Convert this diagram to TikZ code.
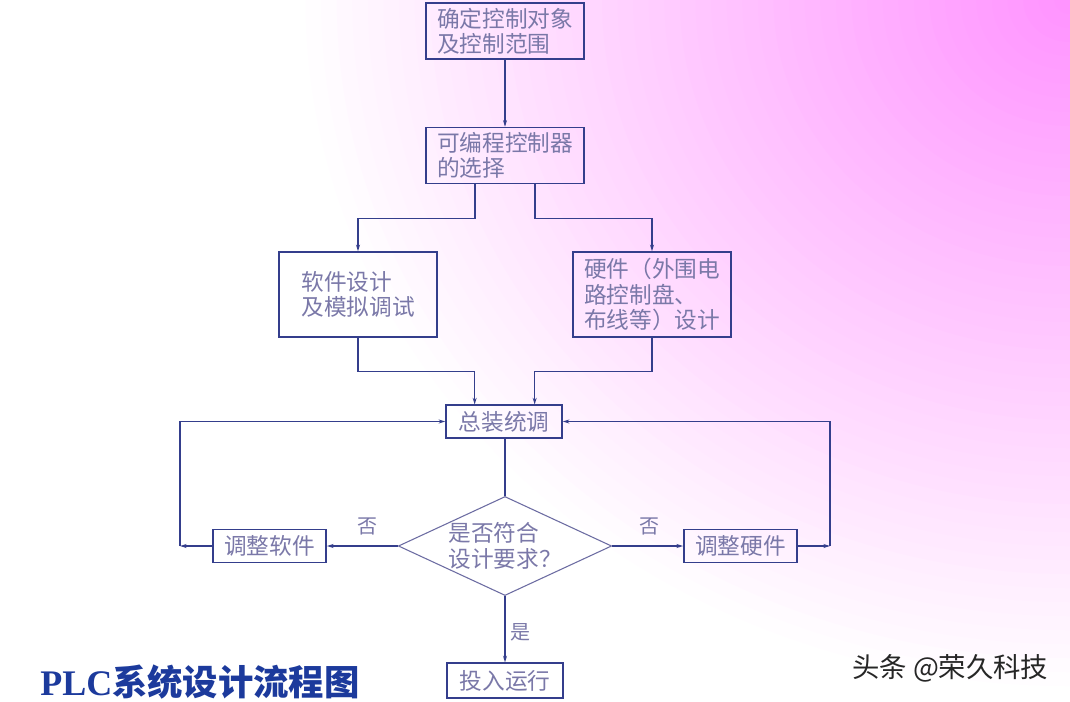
\documentclass[tikz,border=0pt]{standalone}
\usepackage{fontspec}
\setmainfont{Liberation Serif}
\newfontfamily\cjk{Noto Sans CJK SC}
\usetikzlibrary{arrows.meta,positioning,shapes.geometric,calc}
\definecolor{bgpink}{RGB}{255,146,255}
\definecolor{linenavy}{RGB}{52,62,140}
\definecolor{boxtext}{RGB}{122,120,168}
\definecolor{titleblue}{RGB}{28,58,156}

\begin{document}
\begin{tikzpicture}[x=0.75pt,y=-0.75pt,
  box/.style={draw=linenavy,line width=1.1pt,align=left,inner sep=2pt,text=boxtext,
    font=\cjk\fontsize{17}{19}\selectfont},
  wide/.style={box,minimum width=118.5pt,minimum height=42pt},
  tall/.style={box,minimum width=118.5pt,minimum height=63.75pt},
  small/.style={box,minimum width=85pt,minimum height=24.5pt},
  dec/.style={box,shape=diamond,shape aspect=2.15,inner sep=0pt,
    minimum width=160pt,minimum height=74pt,line width=0.8pt,draw=boxtext!80!linenavy},
  lbl/.style={text=boxtext,font=\cjk\fontsize{15}{17}\selectfont},
  arr/.style={-{Stealth[length=5pt,width=3pt]},line width=0.9pt,draw=linenavy}]
% background
\useasboundingbox (0,0) rectangle (1070,702);
\begin{scope}
  \clip (0,0) rectangle (1070,702);
  \fill[white] (0,0) rectangle (1070,702);
  \foreach \k [evaluate=\k as \p using int(2*\k),
               evaluate=\k as \s using 1-\k/50] in {0,...,49}
    \fill[bgpink!\p!white] (1070,0) ellipse ({780*\s} and {700*\s});
\end{scope}
% nodes
\node[wide] (obj) at (505,31) {确定控制对象\\及控制范围};
\node[wide] (sel) at (505,155.5) {可编程控制器\\的选择};
\node[tall] (soft) at (358,294.5) {软件设计\\及模拟调试};
\node[tall] (hard) at (652,294.5) {硬件（外围电\\路控制盘、\\布线等）设计};
\node[small,minimum width=87pt] (asm) at (504,421.5) {总装统调};
\node[dec] (chk) at (505,546) {是否符合\\设计要求？};
\node[small] (adjs) at (269.5,546) {调整软件};
\node[small] (adjh) at (740.5,546) {调整硬件};
\node[small,minimum width=87pt,minimum height=26pt] (run) at (505,680.5) {投入运行};
\coordinate (lt) at (180,546);
\coordinate (rt) at (830,546);
% labels
\node[lbl] (no1) at (367,526) {否};
\node[lbl] (no2) at (649,526) {否};
\node[lbl] (yes) at (520,632) {是};
% connectors
\draw[arr] (obj) -- (sel);
\draw[arr] ([xshift=-22.5pt]sel.south) -- ++(0,34) -| (soft.north);
\draw[arr] ([xshift=22.5pt]sel.south) -- ++(0,34) -| (hard.north);
\draw[arr] (soft.south) -- ++(0,34) -| ([xshift=-22pt]asm.north);
\draw[arr] (hard.south) -- ++(0,34) -| ([xshift=23pt]asm.north);
\draw[line width=0.9pt,draw=linenavy] (asm.south -| chk.north) -- (chk.north);
\draw[arr] (chk.west) -- (adjs.east);
\draw[arr] (chk.east) -- (adjh.west);
\draw[arr] (adjs.west) -- (lt);
\draw[arr] (lt) |- (asm.west);
\draw[arr] (adjh.east) -- (rt);
\draw[arr] (rt) |- (asm.east);
\draw[arr] (chk.south) -- (run.north);
% title and mark
\node[anchor=base west,text=titleblue,inner sep=0pt] (title) at (40,695)
  {\fontsize{27}{30}\selectfont\bfseries PLC{\cjk\fontsize{26.5}{30}\selectfont\bfseries 系统设计流程图}};
\node[anchor=west,text=black!85,inner sep=0pt] (mark) at (852,668)
  {\cjk\fontsize{20.5}{22}\selectfont 头条 @荣久科技};
\end{tikzpicture}
\end{document}
